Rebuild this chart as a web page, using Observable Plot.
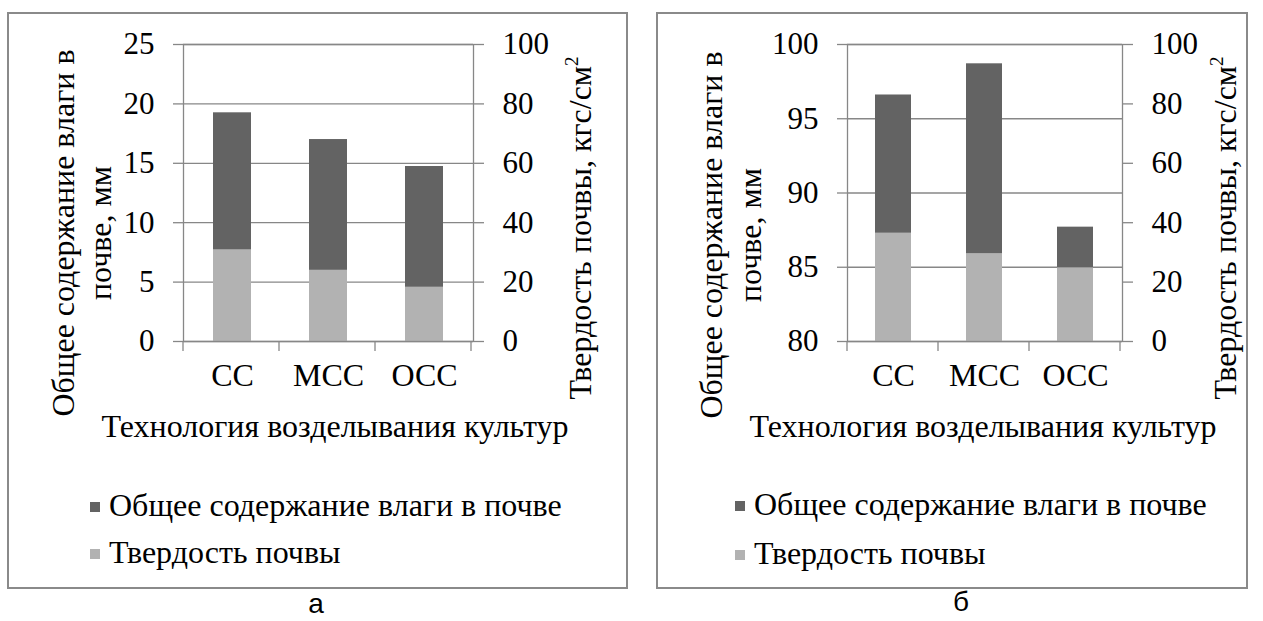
<!DOCTYPE html>
<html>
<head>
<meta charset="utf-8">
<script src="https://cdn.jsdelivr.net/npm/d3@7"></script>
<script src="https://cdn.jsdelivr.net/npm/@observablehq/plot@0.6"></script>
<style>
  html, body { margin: 0; padding: 0; background: #fff; }
  body { width: 1263px; height: 621px; position: relative; overflow: hidden; color: #000; }
  .panel { position: absolute; border: 2px solid #8a8a8a; box-sizing: border-box; }
  .plot { position: absolute; top: 0; }
  .ser { font-family: 'Liberation Serif', 'Times New Roman', Times, Tinos, 'DejaVu Serif', 'Noto Serif', 'FreeSerif', 'Nimbus Roman', serif; }
  .rot { position: absolute; white-space: nowrap; text-align: center; transform: translate(-50%, -50%) rotate(-90deg); font-size: 32px; line-height: 1; }
  .xt { position: absolute; white-space: nowrap; transform: translate(-50%, -50%); font-size: 32px; line-height: 1; }
  .leg { position: absolute; white-space: nowrap; font-size: 32px; line-height: 1; transform: translateY(-50%); }
  .sq { display: inline-block; width: 10px; height: 10px; margin-right: 9px; vertical-align: middle; position: relative; top: -2px; }
  .cap { position: absolute; font-family: 'Liberation Sans', Arial, sans-serif; font-size: 28px; line-height: 30px; height: 30px; transform: translate(-50%, -50%); }
  sup { font-size: 19px; vertical-align: 13px; line-height: 0; }
</style>
</head>
<body>
<div class="panel" style="left:7px; top:12px; width:621px; height:577px;"></div>
<div class="panel" style="left:656px; top:12px; width:592px; height:577px;"></div>
<div id="pa" class="plot" style="left:0px;"></div>
<div id="pb" class="plot" style="left:640px;"></div>

<div class="rot ser" style="left:82px; top:233px; line-height:37px;">Общее содержание влаги в<br>почве, мм</div>
<div class="rot ser" style="left:580px; top:228px;">Твердость почвы, кгс/см<sup>2</sup></div>
<div class="xt ser" style="left:335px; top:426px;">Технология возделывания культур</div>
<div class="leg ser" style="left:90px; top:505px;"><span class="sq" style="background:#636363"></span>Общее содержание влаги в почве</div>
<div class="leg ser" style="left:90px; top:552px;"><span class="sq" style="background:#b2b2b2"></span>Твердость почвы</div>

<div class="rot ser" style="left:731px; top:235px; line-height:39px;">Общее содержание влаги в<br>почве, мм</div>
<div class="rot ser" style="left:1225px; top:228px;">Твердость почвы, кгс/см<sup>2</sup></div>
<div class="xt ser" style="left:983px; top:426px;">Технология возделывания культур</div>
<div class="leg ser" style="left:735px; top:504px;"><span class="sq" style="background:#636363"></span>Общее содержание влаги в почве</div>
<div class="leg ser" style="left:735px; top:553px;"><span class="sq" style="background:#b2b2b2"></span>Твердость почвы</div>

<div class="cap" style="left:316px; top:604px;">а</div>
<div class="cap" style="left:961px; top:602px;">б</div>

<script>
// ---- data ----
const categories = ["СС", "МСС", "ОСС"];
// panel а
const moistureA = [19.25, 17.0, 14.73];   // mm, left axis
const hardnessA = [30.9, 24.0, 18.3];     // kgf/cm2, right axis
const leftTicksA = [0, 5, 10, 15, 20, 25];
const rightTicksA = [0, 20, 40, 60, 80, 100];
// panel б
const moistureB = [96.6, 98.7, 87.7];
const hardnessB = [36.5, 29.6, 24.8];
const leftTicksB = [80, 85, 90, 95, 100];
const rightTicksB = [0, 20, 40, 60, 80, 100];

const DARK = "#636363", LIGHT = "#b2b2b2", GRID = "#878787";
const FONT = "'Liberation Serif', 'Times New Roman', Times, Tinos, 'DejaVu Serif', 'Noto Serif', FreeSerif, 'Nimbus Roman', serif";

function panel(moist, hard, leftTicks, rightTicks, width, marginLeft, marginRight) {
  const lmin = leftTicks[0], lmax = leftTicks[leftTicks.length - 1];
  const rmin = rightTicks[0], rmax = rightTicks[rightTicks.length - 1];
  const toLeft = (v) => lmin + (v - rmin) * (lmax - lmin) / (rmax - rmin);
  const fromLeft = (v) => Math.round(rmin + (v - lmin) * (rmax - rmin) / (lmax - lmin));
  const rows = categories.map((c, i) => ({cat: c, moist: moist[i], hardL: toLeft(hard[i])}));
  const fig = Plot.plot({
    width, height: 470,
    marginLeft, marginRight, marginTop: 44, marginBottom: 129,
    style: {fontFamily: FONT, fontSize: "31px", color: "#000", background: "transparent", overflow: "visible"},
    x: {domain: categories, paddingInner: 0.6, paddingOuter: 0.3, label: null},
    y: {domain: [lmin, lmax], label: null},
    marks: [
      Plot.gridY(leftTicks, {stroke: GRID, strokeOpacity: 1, strokeWidth: 1.3}),
      Plot.barY(rows, {x: "cat", y1: lmin, y2: "moist", fill: DARK}),
      Plot.barY(rows, {x: "cat", y1: lmin, y2: "hardL", fill: LIGHT}),
      Plot.frame({stroke: GRID, strokeWidth: 1.3}),
      Plot.axisY({anchor: "left", ticks: leftTicks, tickSize: 10, tickPadding: 19, stroke: GRID, strokeWidth: 1.3, label: null, fontSize: 31, fontFamily: FONT}),
      Plot.axisY({anchor: "right", ticks: rightTicks.map(toLeft), tickFormat: fromLeft, tickSize: 10, tickPadding: 19, stroke: GRID, strokeWidth: 1.3, label: null, fontSize: 31, fontFamily: FONT}),
      Plot.axisX({anchor: "bottom", tickSize: 0, tickPadding: 22, label: null, fontSize: 32, fontFamily: FONT})
    ]
  });
  // category boundary ticks, from the library's x scale
  const sx = fig.scale("x");
  const r0 = sx.range[0], r1 = sx.range[1];
  const n = categories.length;
  const step = sx.step ?? (r1 - r0) / n;
  const y0 = fig.scale("y").apply(lmin);
  const g = d3.select(fig).append("g").attr("stroke", GRID).attr("stroke-width", 1.3);
  for (let k = 0; k <= n; k++) {
    const xx = r0 + k * step;
    g.append("line").attr("x1", xx).attr("x2", xx).attr("y1", y0).attr("y2", y0 + 10);
  }
  d3.select(fig).selectAll("text").style("font-family", FONT);
  return fig;
}

document.getElementById("pa").append(panel(moistureA, hardnessA, leftTicksA, rightTicksA, 640, 183, 167));
document.getElementById("pb").append(panel(moistureB, hardnessB, leftTicksB, rightTicksB, 623, 207, 141));
</script>
</body>
</html>
